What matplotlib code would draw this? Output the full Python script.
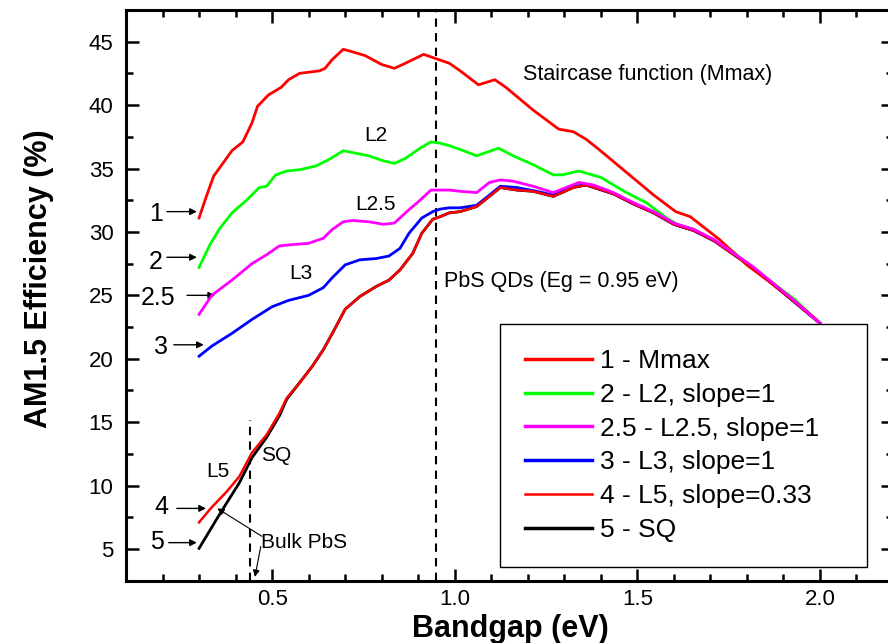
import matplotlib
matplotlib.use('Agg')
import matplotlib.pyplot as plt
from matplotlib.ticker import MultipleLocator

plt.rcParams['font.family'] = ['Liberation Sans', 'DejaVu Sans']

# curve 1 - Mmax (staircase function)
x1 = [0.30, 0.32, 0.34, 0.365, 0.39, 0.42, 0.445, 0.46, 0.49, 0.525, 0.545, 0.575, 0.63, 0.645,
      0.665, 0.695, 0.72, 0.755, 0.80, 0.835, 0.865, 0.915, 0.955, 0.985, 1.015, 1.065, 1.11,
      1.14, 1.215, 1.285, 1.325, 1.36, 1.395, 1.47, 1.545, 1.605, 1.645, 1.725, 1.80, 1.865,
      1.92, 1.99, 2.0]
y1 = [31.1, 32.8, 34.4, 35.4, 36.4, 37.1, 38.6, 39.9, 40.8, 41.4, 42.0, 42.5, 42.7, 42.9,
      43.6, 44.4, 44.2, 43.9, 43.2, 42.9, 43.3, 44.0, 43.6, 43.3, 42.7, 41.6, 42.0,
      41.4, 39.6, 38.1, 37.9, 37.3, 36.5, 34.7, 32.9, 31.6, 31.2, 29.4, 27.4, 26.0,
      24.8, 23.1, 22.8]

# curve 2 - L2
x2 = [0.30, 0.33, 0.355, 0.39, 0.43, 0.465, 0.485, 0.51, 0.54, 0.575, 0.62, 0.655, 0.695, 0.73,
      0.765, 0.805, 0.835, 0.865, 0.905, 0.935, 0.96, 0.985, 1.015, 1.06, 1.12, 1.16, 1.215,
      1.27, 1.295, 1.34, 1.40, 1.47, 1.525, 1.58, 1.615, 1.655, 1.69, 1.765, 1.80, 1.87,
      1.93, 2.0]
y2 = [27.2, 29.0, 30.2, 31.5, 32.5, 33.5, 33.6, 34.5, 34.8, 34.9, 35.2, 35.7, 36.4, 36.2,
      36.0, 35.6, 35.4, 35.8, 36.6, 37.1, 37.0, 36.8, 36.5, 36.0, 36.6, 36.0, 35.3,
      34.5, 34.5, 34.8, 34.3, 33.1, 32.3, 31.1, 30.5, 30.2, 29.6, 28.4, 27.4, 26.0,
      24.7, 22.8]

# curve 2.5 - L2.5
x25 = [0.30, 0.335, 0.39, 0.445, 0.485, 0.52, 0.555, 0.60, 0.64, 0.665, 0.695, 0.72, 0.765,
       0.805, 0.835, 0.865, 0.905, 0.935, 0.96, 0.985, 1.015, 1.06, 1.095, 1.125, 1.16, 1.215,
       1.27, 1.305, 1.34, 1.38, 1.435, 1.49, 1.545, 1.60, 1.655, 1.71, 1.765, 1.815, 1.87,
       1.925, 2.0]
y25 = [23.5, 25.0, 26.2, 27.5, 28.2, 28.9, 29.0, 29.1, 29.5, 30.2, 30.8, 30.9, 30.8,
       30.6, 30.7, 31.5, 32.5, 33.3, 33.3, 33.3, 33.2, 33.1, 33.9, 34.1, 34.0, 33.6,
       33.1, 33.5, 33.9, 33.7, 33.1, 32.3, 31.6, 30.7, 30.2, 29.4, 28.3, 27.3, 26.0,
       24.7, 22.8]

# curve 3 - L3
x3 = [0.30, 0.335, 0.39, 0.445, 0.50, 0.545, 0.60, 0.64, 0.665, 0.70, 0.74, 0.785, 0.82, 0.85,
      0.875, 0.91, 0.94, 0.96, 0.985, 1.015, 1.06, 1.095, 1.125, 1.17, 1.225, 1.27, 1.325,
      1.36, 1.435, 1.49, 1.545, 1.60, 1.655, 1.71, 1.765, 1.815, 1.87, 1.925, 2.0]
y3 = [20.2, 21.0, 22.0, 23.1, 24.1, 24.6, 25.0, 25.6, 26.4, 27.4, 27.8, 27.9, 28.1, 28.7,
      29.9, 31.1, 31.6, 31.8, 31.9, 31.9, 32.1, 32.9, 33.6, 33.5, 33.2, 32.9, 33.6,
      33.7, 33.0, 32.2, 31.5, 30.6, 30.1, 29.3, 28.2, 27.2, 25.9, 24.6, 22.8]

# curve 4 - L5
x4 = [0.30, 0.335, 0.375, 0.41, 0.445, 0.485, 0.52, 0.54, 0.575, 0.61, 0.64, 0.665, 0.70, 0.74,
      0.785, 0.82, 0.85, 0.885, 0.91, 0.94, 0.96, 0.985, 1.015, 1.06, 1.095, 1.125, 1.17,
      1.215, 1.27, 1.325, 1.36, 1.435, 1.49, 1.545, 1.60, 1.655, 1.71, 1.765, 1.815, 1.87,
      1.925, 2.0]
y4 = [7.1, 8.3, 9.5, 10.7, 12.6, 14.0, 15.7, 16.9, 18.1, 19.4, 20.7, 22.0, 23.9, 24.9,
      25.7, 26.2, 27.0, 28.3, 29.9, 31.0, 31.2, 31.5, 31.6, 32.0, 32.8, 33.5, 33.3,
      33.2, 32.8, 33.5, 33.7, 33.0, 32.2, 31.5, 30.6, 30.1, 29.3, 28.2, 27.2, 25.9,
      24.6, 22.8]

# curve 5 - SQ (hidden under L5 above ~0.55 eV)
x5 = [0.30, 0.32, 0.345, 0.375, 0.41, 0.445, 0.485, 0.52, 0.54, 0.575, 0.61, 0.64, 0.665, 0.70,
      0.74, 0.785, 0.82, 0.85, 0.885, 0.91, 0.94, 0.96, 0.985, 1.015, 1.06, 1.095, 1.125,
      1.17, 1.215, 1.27, 1.325, 1.36, 1.435, 1.49, 1.545, 1.60, 1.655, 1.71, 1.765, 1.815,
      1.87, 1.925, 2.0]
y5 = [5.05, 6.0, 7.2, 8.6, 10.2, 12.2, 13.8, 15.5, 16.8, 18.1, 19.4, 20.7, 22.0, 23.9,
      24.9, 25.7, 26.2, 27.0, 28.3, 29.9, 31.0, 31.2, 31.5, 31.6, 32.0, 32.8, 33.5,
      33.3, 33.2, 32.8, 33.5, 33.7, 33.0, 32.2, 31.5, 30.6, 30.1, 29.3, 28.2, 27.2,
      25.9, 24.6, 22.8]

legend_labels = ['1 - Mmax', '2 - L2, slope=1', '2.5 - L2.5, slope=1', '3 - L3, slope=1',
                 '4 - L5, slope=0.33', '5 - SQ']

# curve number labels at left: (text, text position, arrow tail, arrow tip)
num_labels = ['1', '2', '2.5', '3', '4', '5']
num_text_xy = [(0.182, 31.4), (0.182, 27.6), (0.187, 24.8), (0.196, 20.9), (0.196, 8.3), (0.185, 5.55)]
num_tail_xy = [(0.212, 31.6), (0.212, 28.0), (0.267, 25.0), (0.231, 21.1), (0.239, 8.2), (0.217, 5.5)]
num_tip_xy = [(0.294, 31.6), (0.294, 28.0), (0.344, 25.0), (0.313, 21.1), (0.319, 8.2), (0.294, 5.5)]

fig = plt.figure(figsize=(8.88, 6.43), dpi=100)
ax = fig.add_axes([0.1419, 0.0969, 0.8637, 0.8876])

ax.plot(x1, y1, color='#ff0000', lw=2.0, label=legend_labels[0], zorder=4)
ax.plot(x2, y2, color='#00ff00', lw=2.0, label=legend_labels[1], zorder=3)
ax.plot(x25, y25, color='#ff00ff', lw=2.0, label=legend_labels[2], zorder=5)
ax.plot(x3, y3, color='#0000ff', lw=2.0, label=legend_labels[3], zorder=3)
ax.plot(x4, y4, color='#ff0000', lw=1.8, label=legend_labels[4], zorder=3.5)
ax.plot(x5, y5, color='black', lw=2.0, label=legend_labels[5], zorder=2)

# dashed bandgap markers
ax.axvline(0.95, color='black', ls=(0, (4, 3)), lw=1.5, zorder=1)
ax.plot([0.44, 0.44], [2.5, 15.2], color='black', ls=(0, (4, 3)), lw=1.5, zorder=1)

for lab, txy, tail, tip in zip(num_labels, num_text_xy, num_tail_xy, num_tip_xy):
    ax.text(txy[0], txy[1], lab, fontsize=18, ha='center', va='center')
    ax.annotate('', xy=tip, xytext=tail,
                arrowprops=dict(arrowstyle='-|>', color='black', lw=1.0, mutation_scale=10,
                                shrinkA=0, shrinkB=0))

ax.text(0.785, 37.6, 'L2', fontsize=15, ha='center', va='center')
ax.text(0.782, 32.2, 'L2.5', fontsize=15, ha='center', va='center')
ax.text(0.58, 26.7, 'L3', fontsize=15, ha='center', va='center')
ax.text(0.352, 11.1, 'L5', fontsize=15, ha='center', va='center')
ax.text(0.511, 12.4, 'SQ', fontsize=15, ha='center', va='center')
ax.text(0.47, 5.5, 'Bulk PbS', fontsize=15, ha='left', va='center')
ax.annotate('', xy=(0.35, 8.2), xytext=(0.472, 6.0),
            arrowprops=dict(arrowstyle='-|>', color='black', lw=0.8, mutation_scale=10,
                            shrinkA=0, shrinkB=0))
ax.annotate('', xy=(0.453, 2.8), xytext=(0.469, 5.2),
            arrowprops=dict(arrowstyle='-|>', color='black', lw=0.8, mutation_scale=10,
                            shrinkA=0, shrinkB=0))

ax.text(1.186, 42.4, 'Staircase function (Mmax)', fontsize=15.5, ha='left', va='center')
ax.text(0.972, 26.1, 'PbS QDs (Eg = 0.95 eV)', fontsize=15.5, ha='left', va='center')

ax.set_xlim(0.1, 2.2)
ax.set_ylim(2.5, 47.5)
ax.xaxis.set_major_locator(MultipleLocator(0.5))
ax.xaxis.set_minor_locator(MultipleLocator(0.1))
ax.yaxis.set_major_locator(MultipleLocator(5))
ax.yaxis.set_minor_locator(MultipleLocator(2.5))
ax.set_xticks([0.5, 1.0, 1.5, 2.0])
ax.set_yticks([5, 10, 15, 20, 25, 30, 35, 40, 45])
ax.tick_params(which='both', direction='in', top=True, right=True, width=1.8)
ax.tick_params(which='major', length=9, labelsize=16)
ax.tick_params(axis='y', which='major', pad=9)
ax.tick_params(axis='x', which='major', pad=6)
ax.tick_params(which='minor', length=5)
for sp in ax.spines.values():
    sp.set_linewidth(2.2)

ax.set_xlabel('Bandgap (eV)', fontsize=22, fontweight='bold')
ax.set_ylabel('AM1.5 Efficiency (%)', fontsize=22, fontweight='bold')
ax.xaxis.set_label_coords(0.5007, -0.058)
ax.yaxis.set_label_coords(-0.094, 0.530)

leg = ax.legend(loc='lower left', bbox_to_anchor=(0.4876, 0.024, 0.479, 0.424), mode='expand',
                borderaxespad=0, fontsize=19, handlelength=2.54, handletextpad=0.3,
                borderpad=0.95, labelspacing=0.37, fancybox=False, framealpha=1)
leg.get_frame().set_edgecolor('black')
leg.get_frame().set_linewidth(1.0)
for line in leg.get_lines():
    line.set_linewidth(2.5)
leg.get_lines()[4].set_linewidth(1.8)

fig.savefig('out.png', dpi=100)
